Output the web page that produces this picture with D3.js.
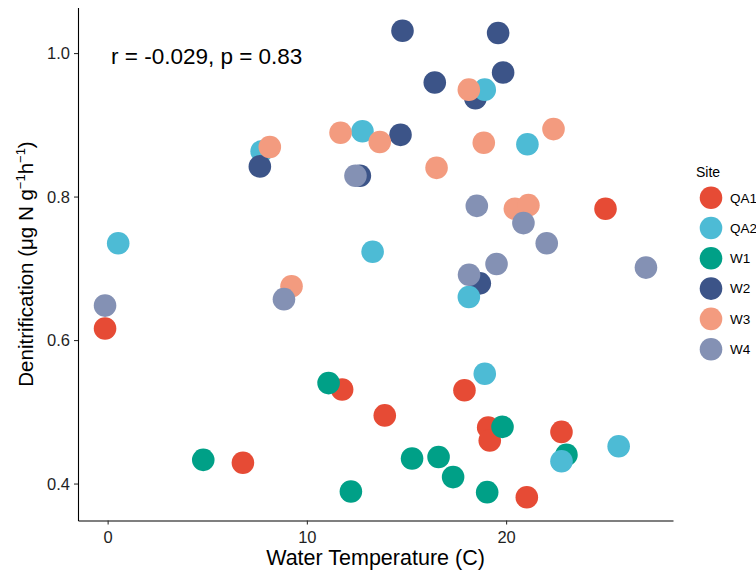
<!DOCTYPE html>
<html>
<head>
<meta charset="utf-8">
<script src="https://cdn.jsdelivr.net/npm/d3@7"></script>
<style>
  html, body { margin: 0; padding: 0; background: #fff; }
  svg { display: block; font-family: "Liberation Sans", Arial, sans-serif; }
</style>
</head>
<body>
<svg id="chart" width="756" height="575"></svg>
<script>
// Sites and their fill colours (legend order)
const sites = ["QA1", "QA2", "W1", "W2", "W3", "W4"];
const siteColors = ["#E64B35", "#4DBBD5", "#00A087", "#3C5488", "#F39B7F", "#8491B4"];

// Observations in row order: site, water temperature (C), denitrification
const site = [
  "QA1","QA1","QA1","QA1","QA1","QA1","QA1","QA1","QA1","QA1",
  "W1","W1","W1","W1","W1","W1","W1","W1","W1",
  "QA2",
  "W2","W2","W2","W2","W2","W2","W2","W2","W2",
  "QA2","QA2","QA2","QA2","QA2","QA2","QA2","QA2","QA2",
  "W3","W3","W3","W3","W3","W3","W3","W3","W3","W3",
  "W4","W4","W4","W4","W4","W4","W4","W4","W4"
];
const temperature = [
  -0.13, 6.79, 11.77, 13.91, 17.91, 19.10, 19.18, 21.04, 22.78, 24.99,
  4.80, 11.09, 12.21, 15.28, 16.61, 17.34, 19.05, 19.82, 23.03,
  7.73,
  14.80, 19.60, 19.85, 16.42, 18.46, 14.70, 7.64, 12.66, 18.68,
  0.53, 12.79, 13.30, 18.93, 21.07, 18.13, 18.93, 22.78, 25.65,
  8.14, 11.69, 13.66, 18.13, 18.88, 22.38, 16.51, 20.44, 21.12, 9.23,
  -0.13, 8.85, 12.44, 18.53, 20.87, 22.04, 19.52, 18.14, 27.02
];
const denitrification = [
  0.616, 0.429, 0.531, 0.495, 0.530, 0.478, 0.460, 0.381, 0.472, 0.783,
  0.433, 0.540, 0.389, 0.435, 0.437, 0.409, 0.388, 0.479, 0.440,
  0.863,
  1.031, 1.028, 0.973, 0.959, 0.937, 0.886, 0.842, 0.829, 0.679,
  0.735, 0.891, 0.723, 0.949, 0.873, 0.660, 0.553, 0.431, 0.452,
  0.869, 0.889, 0.876, 0.949, 0.875, 0.894, 0.840, 0.783, 0.788, 0.675,
  0.648, 0.657, 0.829, 0.787, 0.763, 0.735, 0.706, 0.691, 0.701
];

// Axis ticks and annotation
const xTicks = [0, 10, 20];
const yTicks = [0.4, 0.6, 0.8, 1.0];
const statLabel = "r = -0.029, p = 0.83";

const svg = d3.select("#chart");
const plot = { left: 78, right: 673, top: 7.5, bottom: 520.5 };

// Continuous scales with 5% padding on each side of the data range
function padded(values) {
  const [lo, hi] = d3.extent(values);
  const pad = (hi - lo) * 0.05;
  return [lo - pad, hi + pad];
}
const x = d3.scaleLinear().domain(padded(temperature)).range([plot.left, plot.right]);
const y = d3.scaleLinear().domain(padded(denitrification)).range([plot.bottom, plot.top]);
const color = d3.scaleOrdinal().domain(sites).range(siteColors);

const rows = site.map((s, i) => ({ site: s, t: temperature[i], d: denitrification[i] }));
const radius = 11.3;

// Points
svg.append("g")
  .selectAll("circle")
  .data(rows)
  .join("circle")
  .attr("cx", d => x(d.t))
  .attr("cy", d => y(d.d))
  .attr("r", radius)
  .attr("fill", d => color(d.site));

// Axes
const xAxis = svg.append("g")
  .attr("transform", `translate(0,${plot.bottom})`)
  .call(d3.axisBottom(x).tickValues(xTicks).tickSizeInner(4).tickSizeOuter(0)
    .tickPadding(4).tickFormat(d3.format("d")));
const yAxis = svg.append("g")
  .attr("transform", `translate(${plot.left},0)`)
  .call(d3.axisLeft(y).tickValues(yTicks).tickSizeInner(4).tickSizeOuter(0)
    .tickPadding(4).tickFormat(d3.format(".1f")));

[xAxis, yAxis].forEach(g => {
  g.select(".domain").attr("stroke", "#000").attr("stroke-width", 1.1);
  g.selectAll(".tick line").attr("stroke", "#333").attr("stroke-width", 1.1);
  g.selectAll(".tick text").attr("fill", "#1f1f1f").style("font-size", "16.5px");
});
xAxis.selectAll(".tick text").attr("dy", "0.85em");
yAxis.selectAll(".tick text").attr("dy", "0.35em");

// Axis titles
svg.append("text")
  .attr("x", (plot.left + plot.right) / 2)
  .attr("y", 565)
  .attr("text-anchor", "middle")
  .style("font-size", "21.5px")
  .attr("fill", "#000")
  .text("Water Temperature (C)");

const yTitle = svg.append("text")
  .attr("transform", `translate(33,${(plot.top + plot.bottom) / 2}) rotate(-90)`)
  .attr("text-anchor", "middle")
  .style("font-size", "20.5px")
  .attr("fill", "#000");
yTitle.append("tspan").text("Denitrification (\u03BCg N g");
yTitle.append("tspan").attr("dy", -8).style("font-size", "13px").text("\u22121");
yTitle.append("tspan").attr("dy", 8).text("h");
yTitle.append("tspan").attr("dy", -8).style("font-size", "13px").text("\u22121");
yTitle.append("tspan").attr("dy", 8).text(")");

// Correlation annotation
svg.append("text")
  .attr("x", 111)
  .attr("y", 64)
  .style("font-size", "22.5px")
  .attr("fill", "#000")
  .text(statLabel);

// Legend
const legend = svg.append("g");
legend.append("text")
  .attr("x", 696)
  .attr("y", 177)
  .style("font-size", "14px")
  .attr("fill", "#000")
  .text("Site");
const item = legend.selectAll("g.item")
  .data(sites)
  .join("g")
  .attr("class", "item")
  .attr("transform", (d, i) => `translate(711,${197.7 + i * 30.3})`);
item.append("circle").attr("r", radius).attr("fill", d => color(d));
item.append("text")
  .attr("x", 19)
  .attr("dy", "0.36em")
  .style("font-size", "13.5px")
  .attr("fill", "#000")
  .text(d => d);
</script>
</body>
</html>
